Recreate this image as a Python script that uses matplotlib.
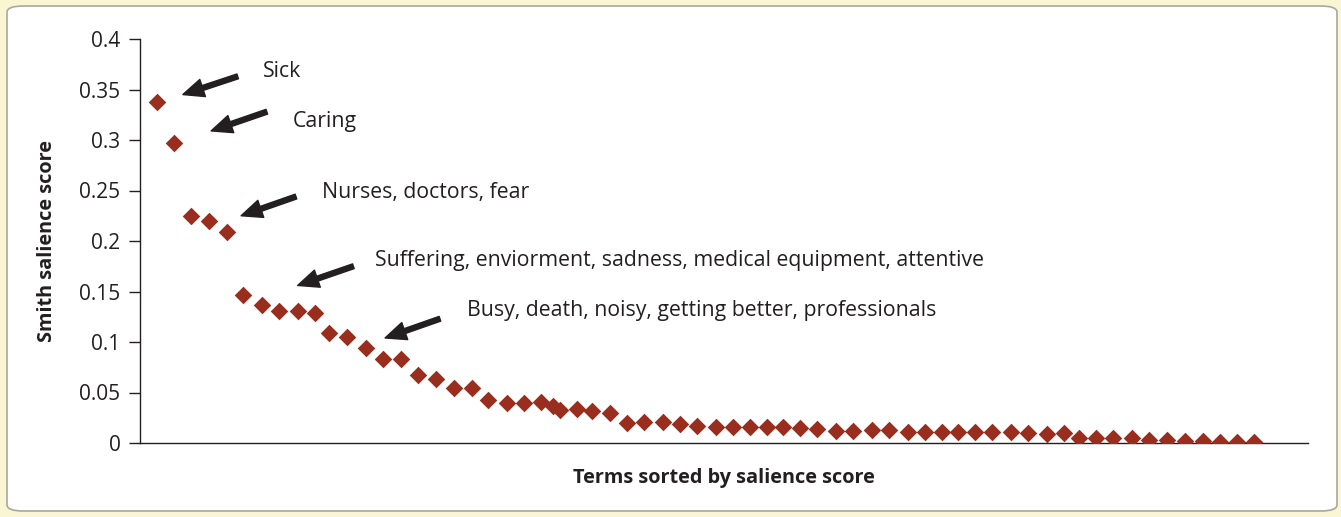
import matplotlib
matplotlib.use("Agg")
import matplotlib.pyplot as plt
from matplotlib.patches import FancyBboxPatch

# term slot positions and Smith salience scores
term_pos = [1.0, 2.0, 3.0, 4.0, 5.1, 6.0, 7.1, 8.1, 9.2, 10.2,
            11.0, 12.1, 13.2, 14.2, 15.2, 16.2, 17.3, 18.3, 19.4, 20.3,
            21.4, 22.4, 23.4, 24.1, 24.5, 25.5, 26.4, 27.4, 28.4, 29.4,
            30.5, 31.5, 32.5, 33.6, 34.6, 35.6, 36.6, 37.5, 38.5, 39.5,
            40.6, 41.6, 42.7, 43.7, 44.8, 45.8, 46.8, 47.7, 48.7, 49.7,
            50.8, 51.8, 52.9, 53.9, 54.8, 55.8, 56.8, 57.9, 58.9, 59.9,
            61.0, 62.0, 63.0, 64.0, 65.0]
salience = [0.338, 0.297, 0.225, 0.220, 0.209, 0.147, 0.137, 0.131, 0.131, 0.129,
            0.109, 0.105, 0.094, 0.083, 0.083, 0.067, 0.063, 0.054, 0.054, 0.043,
            0.040, 0.040, 0.041, 0.037, 0.033, 0.034, 0.032, 0.030, 0.020, 0.0205,
            0.0205, 0.0185, 0.017, 0.0155, 0.0155, 0.0155, 0.0155, 0.0155, 0.0145, 0.0135,
            0.012, 0.012, 0.013, 0.013, 0.0106, 0.0106, 0.011, 0.011, 0.011, 0.011,
            0.011, 0.0096, 0.0086, 0.0096, 0.0053, 0.0053, 0.0053, 0.0053, 0.003, 0.003,
            0.002, 0.002, 0.0013, 0.0013, 0.0007]

y_ticks = [0, 0.05, 0.1, 0.15, 0.2, 0.25, 0.3, 0.35, 0.4]
y_ticklabels = ['0', '0.05', '0.1', '0.15', '0.2', '0.25', '0.3', '0.35', '0.4']

# label text, text anchor (x, y), arrow tail (x, y), arrow tip (x, y)
notes = [
    ('Sick', (7.2, 0.368), (5.7, 0.363), (2.5, 0.345)),
    ('Caring', (8.9, 0.318), (7.4, 0.328), (4.15, 0.309)),
    ('Nurses, doctors, fear', (10.6, 0.2485), (9.1, 0.244), (5.9, 0.225)),
    ('Suffering, enviorment, sadness, medical equipment, attentive',
     (13.7, 0.181), (12.45, 0.175), (9.2, 0.156)),
    ('Busy, death, noisy, getting better, professionals',
     (19.1, 0.131), (17.5, 0.123), (14.3, 0.104)),
]

ink = '#231f20'
marker_col = '#992d1e'
plt.rcParams['font.family'] = ['Open Sans', 'DejaVu Sans']

fig = plt.figure(figsize=(13.41, 5.17), dpi=100, facecolor='#faf6d3')
panel = FancyBboxPatch((7 / 1341, 6 / 517), 1330 / 1341, 505 / 517,
                       boxstyle='round,pad=0,rounding_size=0.012',
                       transform=fig.transFigure, facecolor='white',
                       edgecolor='#a8a8a0', lw=1.2, zorder=-5)
fig.patches.append(panel)

ax = fig.add_axes([140 / 1341, 1 - 443 / 517, 1168 / 1341, 404 / 517])
ax.set_facecolor('none')

ax.scatter(term_pos, salience, marker='D', s=80, color=marker_col,
           linewidths=0, zorder=3)

for txt, txy, tail, tip in notes:
    ax.annotate('', xy=tip, xytext=tail,
                arrowprops=dict(facecolor=ink, edgecolor=ink, width=3.6,
                                headwidth=13, headlength=15, shrink=0))
    ax.text(txy[0], txy[1], txt, ha='left', va='center', fontsize=15.3, color=ink)

ax.set_xlim(0, 68.15)
ax.set_ylim(0, 0.4)
ax.set_yticks(y_ticks)
ax.set_yticklabels(y_ticklabels)
ax.set_xticks([])
ax.tick_params(axis='y', direction='out', length=8, width=1, color=ink,
               labelsize=15, labelcolor=ink, pad=6)
for s in ['top', 'right']:
    ax.spines[s].set_visible(False)
for s in ['left', 'bottom']:
    ax.spines[s].set_color(ink)
    ax.spines[s].set_linewidth(1)

ax.set_xlabel('Terms sorted by salience score', fontsize=14.3, fontweight='bold',
              color=ink, labelpad=18)
ax.set_ylabel('Smith salience score', fontsize=14.3, fontweight='bold',
              color=ink, labelpad=16)

plt.savefig('out.png', dpi=100, facecolor=fig.get_facecolor())
